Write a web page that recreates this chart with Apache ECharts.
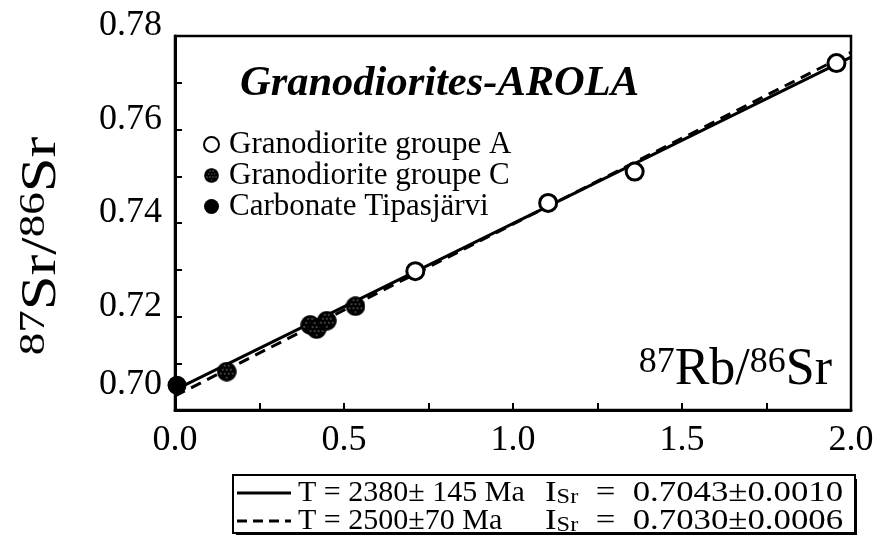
<!DOCTYPE html>
<html>
<head>
<meta charset="utf-8">
<script src="https://cdn.jsdelivr.net/npm/echarts@6/dist/echarts.min.js"></script>
<style>
  html, body { margin: 0; padding: 0; background: #fff; }
  #chart { width: 882px; height: 545px; }
</style>
</head>
<body>
<div id="chart"></div>
<script>
// 87Rb/86Sr vs 87Sr/86Sr isochron data
const groupA_x = [0.711, 1.104, 1.360, 1.957];
const groupA_y = [0.7297, 0.7443, 0.7510, 0.7742];
const groupC_x = [0.153, 0.400, 0.419, 0.449, 0.534];
const groupC_y = [0.7082, 0.7182, 0.7173, 0.7191, 0.7222];
const carbonate_x = [0.006];
const carbonate_y = [0.7053];

// Regression lines: start (intercept = ISr) and end at Rb/Sr = 2.0
const iso2380_x = [0.0, 2.0];
const iso2380_y = [0.7043, 0.7755];
const iso2500_x = [0.0, 2.0];
const iso2500_y = [0.7030, 0.7765];

const seriesNames = ['Granodiorite groupe A', 'Granodiorite groupe C', 'Carbonate Tipasjärvi'];
const isoAges = ['T = 2380\u00b1 145 Ma', 'T = 2500\u00b170 Ma'];
const isoInitial = ['0.7043\u00b10.0010', '0.7030\u00b10.0006'];

const zip = (xs, ys) => xs.map((x, i) => [x, ys[i]]);

// stippled disc used as the group C symbol
function stippledDisc() {
  const c = document.createElement('canvas');
  c.width = 40; c.height = 40;
  const g = c.getContext('2d');
  g.fillStyle = '#000';
  g.beginPath(); g.arc(20, 20, 19.5, 0, Math.PI * 2); g.fill();
  g.fillStyle = '#fff';
  for (let y = 8; y <= 32; y += 8) {
    for (let x = 4; x <= 36; x += 8) {
      const ox = ((y / 8) % 2) ? 4 : 0;
      const px = x + ox, py = y;
      if ((px - 20) ** 2 + (py - 20) ** 2 < 13.5 ** 2) g.fillRect(px - 1, py - 1, 2, 2);
    }
  }
  return 'image://' + c.toDataURL();
}
const stippleSymbol = stippledDisc();

const serif = '"Liberation Serif", "DejaVu Serif", serif';
const chart = echarts.init(document.getElementById('chart'), null, { renderer: 'canvas' });

// isochron key below the plot
const keyTop = 474, keyLeft = 232, rowY = [493, 521];
const keyGraphics = [
  { type: 'rect', left: keyLeft + 4, top: keyTop + 5, shape: { width: 621, height: 56 }, style: { fill: '#000' }, z: 1, silent: true },
  { type: 'rect', left: keyLeft, top: keyTop, shape: { width: 622, height: 58 }, style: { fill: '#fff', stroke: '#000', lineWidth: 2 }, z: 2, silent: true },
  { type: 'line', shape: { x1: 237, y1: rowY[0], x2: 291, y2: rowY[0] }, style: { stroke: '#000', lineWidth: 3 }, z: 3, silent: true },
  { type: 'line', shape: { x1: 237, y1: rowY[1], x2: 291, y2: rowY[1] }, style: { stroke: '#000', lineWidth: 3, lineDash: [10, 6] }, z: 3, silent: true }
];
isoAges.forEach((t, i) => {
  keyGraphics.push({
    type: 'text', x: 298, y: rowY[i], z: 3, silent: true,
    style: { text: t, x: 0, y: 0, verticalAlign: 'middle', fontFamily: serif, fontSize: 30, fill: '#000' }
  });
  keyGraphics.push({
    type: 'text', x: 545, y: rowY[i], scaleX: 1.16, z: 3, silent: true,
    style: {
      text: '{i|I}{s|Sr}{v|  =  ' + isoInitial[i] + '}',
      x: 0, y: 0, verticalAlign: 'middle',
      rich: {
        i: { fontFamily: serif, fontSize: 30, fill: '#000', lineHeight: 30 },
        s: { fontFamily: serif, fontSize: 21, fill: '#000', verticalAlign: 'bottom', lineHeight: 24 },
        v: { fontFamily: serif, fontSize: 30, fill: '#000', lineHeight: 30 }
      }
    }
  });
});

// vertical axis title
keyGraphics.push({
  type: 'text', x: 42, y: 246, rotation: Math.PI / 2, scaleX: 1.25, z: 3, silent: true,
  style: {
    text: '{sup|87}{b|Sr/}{sup|86}{b|Sr}',
    x: 0, y: 0, align: 'center', verticalAlign: 'middle',
    rich: {
      sup: { fontFamily: serif, fontSize: 36, verticalAlign: 'top', lineHeight: 50, fill: '#000' },
      b: { fontFamily: serif, fontSize: 50, lineHeight: 50, fill: '#000' }
    }
  }
});

chart.setOption({
  animation: false,
  backgroundColor: '#fff',
  textStyle: { fontFamily: serif, color: '#000' },
  title: {
    text: 'Granodiorites-AROLA',
    left: 235, top: 58,
    textStyle: { fontFamily: serif, fontSize: 42.5, fontWeight: 'bold', fontStyle: 'italic', color: '#000' }
  },
  grid: {
    left: 175, top: 36, width: 676, height: 374,
    show: true, borderColor: '#000', borderWidth: 2.5, backgroundColor: 'transparent'
  },
  legend: {
    data: [
      { name: seriesNames[0], icon: 'circle' },
      { name: seriesNames[1], icon: stippleSymbol },
      { name: seriesNames[2], icon: 'circle' }
    ],
    orient: 'vertical',
    left: 198, top: 124,
    itemWidth: 15, itemHeight: 15, itemGap: 0,
    textStyle: { fontFamily: serif, fontSize: 31, color: '#000', lineHeight: 31, padding: [0, 0, 0, 5] },
    selectedMode: false
  },
  xAxis: [
    {
      type: 'value', min: 0, max: 2, interval: 0.25,
      name: '{sup|87}{b|Rb/}{sup|86}{b|Sr}',
      nameLocation: 'end', nameGap: -19,
      nameTextStyle: {
        align: 'right', verticalAlign: 'bottom', padding: [0, 0, 15, 0],
        rich: {
          sup: { fontFamily: serif, fontSize: 36, verticalAlign: 'top', lineHeight: 50, color: '#000' },
          b: { fontFamily: serif, fontSize: 52, lineHeight: 50, color: '#000' }
        }
      },
      axisLine: { show: true, lineStyle: { color: '#000', width: 3 } },
      axisTick: { show: true, inside: true, length: 7, lineStyle: { color: '#000', width: 2 } },
      splitLine: { show: false },
      axisLabel: {
        margin: 13,
        fontFamily: serif, fontSize: 36, color: '#000',
        formatter: v => (Math.round(v * 100) % 50 === 0 ? v.toFixed(1) : '')
      }
    }
  ],
  yAxis: [
    {
      type: 'value', min: 0.70, max: 0.78, interval: 0.01,
      axisLine: { show: true, lineStyle: { color: '#000', width: 3 } },
      axisTick: { show: true, inside: true, length: 7, lineStyle: { color: '#000', width: 2 } },
      splitLine: { show: false },
      axisLabel: {
        margin: 13,
        formatter: v => {
          const k = Math.round(v * 100);
          if (k % 2 !== 0) return '';
          return (k === 70 ? '{lo|' : '{n|') + v.toFixed(2) + '}';
        },
        rich: {
          n: { fontFamily: serif, fontSize: 36, color: '#000', padding: [0, 0, 20, 0] },
          lo: { fontFamily: serif, fontSize: 36, color: '#000', padding: [0, 0, 50, 0] }
        }
      }
    }
  ],
  series: [
    {
      name: 'T = 2380 Ma', type: 'line', data: zip(iso2380_x, iso2380_y),
      symbol: 'none', z: 2,
      lineStyle: { color: '#000', width: 3, type: 'solid' }
    },
    {
      name: 'T = 2500 Ma', type: 'line', data: zip(iso2500_x, iso2500_y),
      symbol: 'none', z: 2,
      lineStyle: { color: '#000', width: 3, type: [11, 7] }
    },
    {
      name: seriesNames[0], type: 'scatter', data: zip(groupA_x, groupA_y),
      symbol: 'circle', symbolSize: 17, z: 5,
      itemStyle: { color: '#fff', borderColor: '#000', borderWidth: 3, opacity: 1 }
    },
    {
      name: seriesNames[1], type: 'scatter', data: zip(groupC_x, groupC_y),
      symbol: stippleSymbol, symbolSize: 20, z: 5,
      itemStyle: { color: '#000', opacity: 1 }
    },
    {
      name: seriesNames[2], type: 'scatter', data: zip(carbonate_x, carbonate_y),
      symbol: 'circle', symbolSize: 19, z: 5,
      itemStyle: { color: '#000', opacity: 1 }
    }
  ],
  graphic: keyGraphics
});
</script>
</body>
</html>
